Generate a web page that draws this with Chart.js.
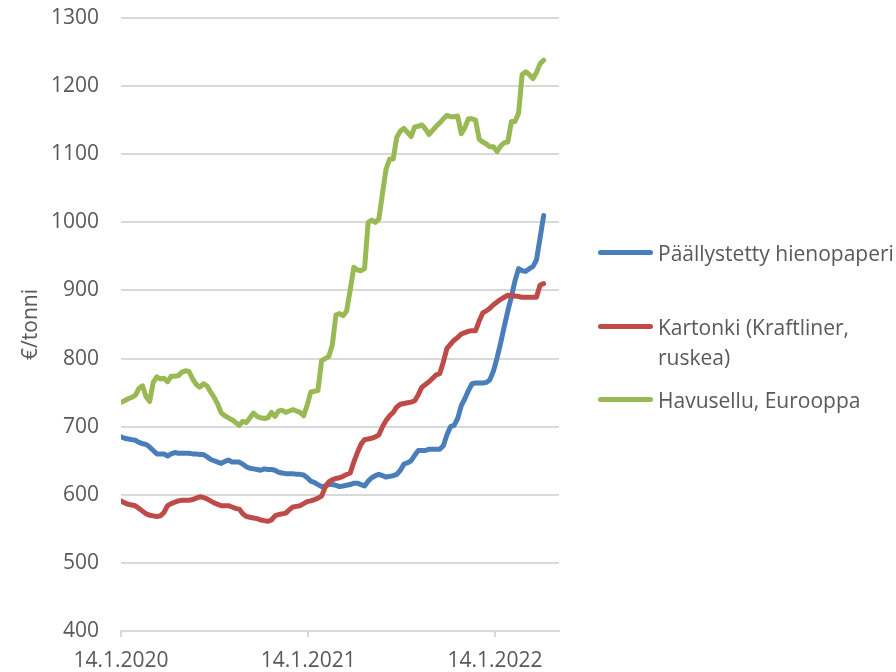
<!DOCTYPE html>
<html>
<head>
<meta charset="utf-8">
<script src="https://cdn.jsdelivr.net/npm/chart.js@4/dist/chart.umd.min.js"></script>
<style>
  body { margin: 0; background: #fff; }
  #wrap { position: relative; width: 896px; height: 672px; }
  .leg { position: absolute; left: 598px; font-family: 'Open Sans', sans-serif; font-size: 21px; color: #595959; line-height: 30px; }
  .leg i { position: absolute; left: 0; width: 55px; height: 5px; border-radius: 3px; }
  .leg span { position: absolute; left: 60px; white-space: nowrap; }
</style>
</head>
<body>
<div id="wrap">
  <canvas id="priceChart" width="896" height="672"></canvas>
  <div class="leg" style="top:238px"><i style="top:12px;background:#4a7ebb"></i><span>Päällystetty hienopaperi</span></div>
  <div class="leg" style="top:312px"><i style="top:12px;background:#be4b48"></i><span>Kartonki (Kraftliner,<br>ruskea)</span></div>
  <div class="leg" style="top:385px"><i style="top:12px;background:#98b954"></i><span>Havusellu, Eurooppa</span></div>
</div>
<script>
// viikkodata alkaen 14.1.2020, €/tonni
const paallystetty = [
  685, 683, 682, 681, 680, 677, 675, 674, 670, 665, 660, 660, 660, 657, 660, 662, 661, 661, 661, 661,
  660, 660, 659, 659, 656, 652, 650, 648, 646, 649, 651, 648, 648, 648, 645, 641, 639, 638, 637, 636,
  638, 637, 637, 636, 633, 632, 631, 631, 631, 630, 630, 629, 625, 620, 618, 615, 612, 613, 615, 615,
  614, 612, 613, 614, 615, 617, 617, 615, 613, 620, 625, 628, 630, 628, 626, 627, 628, 630, 636, 645,
  647, 650, 658, 665, 665, 665, 667, 667, 667, 667, 672, 688, 700, 702, 712, 731, 741, 753, 763, 764,
  764, 764, 765, 769, 782, 801, 823, 847, 870, 891, 914, 932, 929, 928, 932, 935, 945, 977, 1010
];
const kartonki = [
  591, 588, 586, 585, 584, 580, 576, 572, 570, 569, 568, 569, 574, 584, 587, 589, 591, 592, 592, 592,
  593, 595, 597, 596, 594, 591, 588, 586, 584, 584, 584, 582, 580, 579, 572, 568, 567, 566, 565, 563,
  562, 561, 563, 569, 571, 572, 573, 578, 582, 583, 584, 587, 590, 591, 593, 595, 598, 611, 619, 622,
  624, 625, 627, 630, 632, 648, 662, 674, 681, 682, 683, 685, 688, 700, 709, 716, 721, 729, 733, 734,
  735, 736, 738, 747, 758, 762, 766, 771, 776, 778, 795, 815, 821, 827, 831, 836, 838, 840, 841, 841,
  855, 867, 870, 874, 879, 883, 887, 890, 893, 892, 892, 891, 890, 890, 890, 890, 890, 908, 910
];
const havusellu = [
  736, 738, 741, 743, 746, 756, 760, 744, 737, 765, 773, 770, 771, 766, 774, 774, 775, 780, 782, 781,
  770, 762, 758, 763, 760, 751, 743, 733, 720, 716, 713, 710, 706, 702, 708, 706, 713, 720, 715, 713,
  712, 713, 721, 715, 723, 724, 721, 723, 725, 723, 721, 716, 732, 751, 752, 753, 797, 800, 803, 820,
  864, 866, 863, 870, 901, 934, 930, 929, 932, 1000, 1003, 1000, 1005, 1042, 1078, 1093, 1093, 1125, 1134, 1138,
  1132, 1126, 1140, 1141, 1143, 1137, 1129, 1135, 1141, 1146, 1152, 1157, 1155, 1155, 1156, 1130, 1139, 1152, 1152, 1150,
  1122, 1118, 1115, 1111, 1111, 1104, 1112, 1117, 1118, 1148, 1148, 1160, 1217, 1221, 1217, 1211, 1220, 1233, 1238
];

// x-akseli päivinä 14.1.2020 alusta
const tickDays = [0, 366, 731];
const tickLabels = ["14.1.2020", "14.1.2021", "14.1.2022"];
const toPoints = arr => arr.map((v, i) => ({ x: i * 7, y: v }));

Chart.defaults.font.family = "'Open Sans', sans-serif";
Chart.defaults.font.size = 21;
Chart.defaults.color = "#595959";

const ctx = document.getElementById("priceChart").getContext("2d");

const priceChart = new Chart(ctx, {
  type: "line",
  data: {
    datasets: [
      { label: "Päällystetty hienopaperi", data: toPoints(paallystetty), borderColor: "#4a7ebb", order: 3 },
      { label: "Kartonki (Kraftliner, ruskea)", data: toPoints(kartonki), borderColor: "#be4b48", order: 2 },
      { label: "Havusellu, Eurooppa", data: toPoints(havusellu), borderColor: "#98b954", order: 1 }
    ]
  },
  options: {
    responsive: false,
    animation: false,
    layout: { padding: { top: 18, right: 337, bottom: 0, left: 0 } },
    elements: {
      line: { borderWidth: 5, tension: 0, borderCapStyle: "round", borderJoinStyle: "round" },
      point: { radius: 0 }
    },
    plugins: { legend: { display: false }, tooltip: { enabled: false } },
    scales: {
      x: {
        type: "linear",
        min: 0,
        max: 856,
        afterBuildTicks: s => { s.ticks = tickDays.map(v => ({ value: v })); },
        afterFit: s => { s.height = 41; s.paddingLeft = 0; s.paddingRight = 0; },
        ticks: {
          autoSkip: false,
          maxRotation: 0,
          padding: 11,
          callback: v => tickLabels[tickDays.indexOf(v)]
        },
        grid: { drawOnChartArea: false, color: "#d9d9d9", lineWidth: 2, tickLength: 6 },
        border: { color: "#d9d9d9", width: 2 }
      },
      y: {
        min: 400,
        max: 1300,
        afterFit: s => { s.width = 121; s.paddingTop = 0; s.paddingBottom = 0; },
        ticks: { stepSize: 100, padding: 22, callback: v => String(v) },
        grid: { color: "#d9d9d9", lineWidth: 2, drawTicks: false },
        border: { display: false },
        title: { display: true, text: "€/tonni", padding: { top: 18, bottom: 0 } }
      }
    }
  }
});
</script>
</body>
</html>
